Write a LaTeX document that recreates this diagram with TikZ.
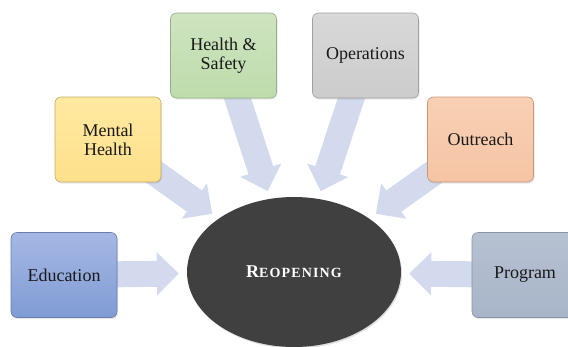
\documentclass[tikz,border=0pt]{standalone}
\usepackage{fontspec}
\setmainfont{Liberation Serif}
\usetikzlibrary{arrows.meta,shapes.geometric,shadows,backgrounds}
\tikzset{
  topic-box/.style={
    rectangle,
    rounded corners=6pt,
    line width=0.6pt,
    minimum width=106pt,
    minimum height=85pt,
    align=center,
    text=boxtext,
    font=\fontsize{18}{19}\selectfont,
    drop shadow={opacity=0.18, shadow xshift=1pt, shadow yshift=-1.5pt}
  },
  topic-green/.style={topic-box, draw=greenline, top color=greentop, bottom color=greenbottom},
  topic-yellow/.style={topic-box, draw=yellowline, top color=yellowtop, bottom color=yellowbottom},
  topic-gray/.style={topic-box, draw=grayline, top color=graytop, bottom color=graybottom},
  topic-peach/.style={topic-box, draw=peachline, top color=peachtop, bottom color=peachbottom},
  topic-blue/.style={topic-box, draw=blueline, top color=bluetop, bottom color=bluebottom},
  topic-slate/.style={topic-box, draw=slateline, top color=slatetop, bottom color=slatebottom},
  hub-ellipse/.style={
    ellipse,
    fill=hubgray,
    minimum width=214pt,
    minimum height=150pt,
    text=white,
    drop shadow={opacity=0.25, shadow xshift=1pt, shadow yshift=-1.5pt}
  },
  block-arrow/.style={
    draw=arrowblue,
    line width=26pt,
    -{Triangle[length=22pt,width=42pt]},
    shorten >=8pt,
    shorten <=-12pt
  }
}
\definecolor{boxtext}{RGB}{25,25,25}
\definecolor{arrowblue}{RGB}{211,218,238}
\definecolor{hubgray}{RGB}{64,64,64}
\definecolor{greentop}{RGB}{206,228,192}
\definecolor{greenbottom}{RGB}{190,220,172}
\definecolor{greenline}{RGB}{150,172,138}
\definecolor{yellowtop}{RGB}{255,233,160}
\definecolor{yellowbottom}{RGB}{254,224,140}
\definecolor{yellowline}{RGB}{196,170,105}
\definecolor{graytop}{RGB}{216,216,216}
\definecolor{graybottom}{RGB}{204,204,204}
\definecolor{grayline}{RGB}{160,160,160}
\definecolor{peachtop}{RGB}{249,208,180}
\definecolor{peachbottom}{RGB}{245,196,164}
\definecolor{peachline}{RGB}{196,150,122}
\definecolor{bluetop}{RGB}{165,184,228}
\definecolor{bluebottom}{RGB}{128,155,212}
\definecolor{blueline}{RGB}{105,125,172}
\definecolor{slatetop}{RGB}{182,193,210}
\definecolor{slatebottom}{RGB}{168,180,200}
\definecolor{slateline}{RGB}{138,148,168}
\newcommand{\diagramframe}{
  \useasboundingbox (0,0) rectangle (568,346);
}

\begin{document}
\begin{tikzpicture}[x=1pt, y=-1pt]
  \diagramframe

  % Hub
  \node[hub-ellipse] (reopening) at (294,272)
    {\bfseries\addfontfeature{LetterSpace=8}{\fontsize{18}{18}\selectfont R}{\fontsize{14}{14}\selectfont EOPENING}};

  % Topics
  \node[topic-blue]   (education)  at (64,275)    {Education};
  \node[topic-yellow] (mental)     at (108,139.5) {Mental\\Health};
  \node[topic-green]  (safety)     at (223.5,55.5) {Health \&\\Safety};
  \node[topic-gray]   (operations) at (365.5,55.5) {Operations};
  \node[topic-peach]  (outreach)   at (480.5,139.5) {Outreach};
  \node[topic-slate]  (program)    at (525,275)   {Program};

  % Arrows into the hub
  \begin{pgfonlayer}{background}
    \foreach \topic in {education,mental,safety,operations,outreach,program}
      \draw[block-arrow] (\topic) -- (reopening);
  \end{pgfonlayer}
\end{tikzpicture}
\end{document}
